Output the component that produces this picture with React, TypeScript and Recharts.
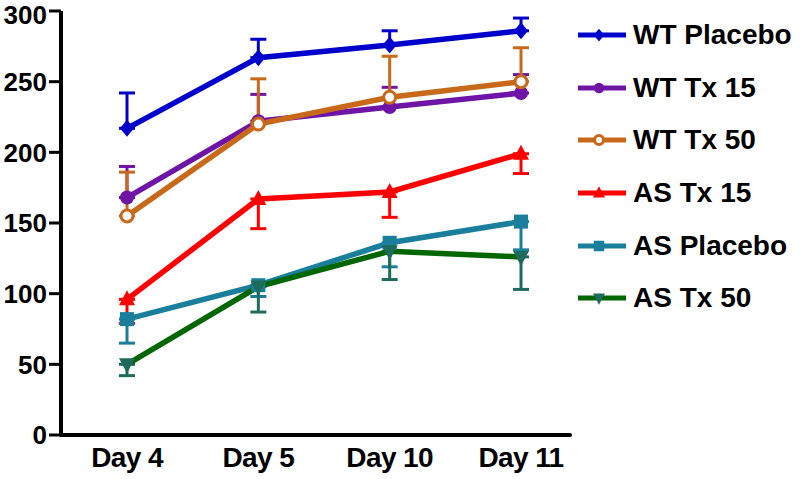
import React from 'react';
import { LineChart, Line, XAxis, YAxis, ErrorBar, Legend } from 'recharts';

const days = ['Day 4', 'Day 5', 'Day 10', 'Day 11'];
const yTicks = [0, 50, 100, 150, 200, 250, 300];

const wtPlacebo = [217, 267, 276, 286];
const wtPlaceboErr = [25, 13, 10, 9];
const wtTx15 = [168, 222, 232, 242];
const wtTx15Err = [22, 19, 14, 13];
const wtTx50 = [155, 220, 239, 250];
const wtTx50Err = [31, 32, 29, 24];
const asTx15 = [96, 167, 172, 199];
const asTx15Err = [17, 21, 18, 14];
const asPlacebo = [82, 106, 136, 151];
const asPlaceboErr = [17, 8, 17, 20];
const asTx50 = [50, 105, 130, 126];
const asTx50Err = [8, 18, 20, 23];

type Shape = 'diamond' | 'circle' | 'ocircle' | 'tri' | 'square' | 'tridown';

const series: {
  key: string; name: string; values: number[]; err: number[]; up: boolean;
  line: string; mark: string; shape: Shape;
}[] = [
  { key: 'wtPlacebo', name: 'WT Placebo', values: wtPlacebo, err: wtPlaceboErr, up: true, line: '#0000CC', mark: '#0000CC', shape: 'diamond' },
  { key: 'wtTx15', name: 'WT Tx 15', values: wtTx15, err: wtTx15Err, up: true, line: '#6E14A6', mark: '#6E14A6', shape: 'circle' },
  { key: 'wtTx50', name: 'WT Tx 50', values: wtTx50, err: wtTx50Err, up: true, line: '#C8691A', mark: '#C8691A', shape: 'ocircle' },
  { key: 'asTx15', name: 'AS Tx 15', values: asTx15, err: asTx15Err, up: false, line: '#FF0000', mark: '#FF0000', shape: 'tri' },
  { key: 'asPlacebo', name: 'AS Placebo', values: asPlacebo, err: asPlaceboErr, up: false, line: '#1A7F9C', mark: '#1A7F9C', shape: 'square' },
  { key: 'asTx50', name: 'AS Tx 50', values: asTx50, err: asTx50Err, up: false, line: '#006600', mark: '#1E6B5C', shape: 'tridown' },
];

const data = days.map((day, i) => {
  const row: Record<string, unknown> = { day };
  series.forEach((s) => {
    row[s.key] = s.values[i];
    row[s.key + 'E'] = s.up ? [0, s.err[i]] : [s.err[i], 0];
  });
  return row;
});

function Marker({ shape, cx, cy, color, k = 1 }: { shape: Shape; cx: number; cy: number; color: string; k?: number }) {
  switch (shape) {
    case 'diamond':
      return <polygon points={`${cx},${cy - 8.5 * k} ${cx + 7 * k},${cy} ${cx},${cy + 8.5 * k} ${cx - 7 * k},${cy}`} fill={color} />;
    case 'circle':
      return <circle cx={cx} cy={cy} r={7 * k} fill={color} />;
    case 'ocircle':
      return <circle cx={cx} cy={cy} r={6 * k} fill="#fff" stroke={color} strokeWidth={3} />;
    case 'tri':
      return <polygon points={`${cx},${cy - 9 * k} ${cx + 8 * k},${cy + 6 * k} ${cx - 8 * k},${cy + 6 * k}`} fill={color} />;
    case 'square':
      return <rect x={cx - 7 * k} y={cy - 7 * k} width={14 * k} height={14 * k} fill={color} />;
    case 'tridown':
      return <polygon points={`${cx - 8 * k},${cy - 6 * k} ${cx + 8 * k},${cy - 6 * k} ${cx},${cy + 9 * k}`} fill={color} />;
  }
  return null;
}

const font = "'Liberation Sans', Arial, sans-serif";

function LegendContent() {
  return (
    <div style={{ display: 'flex', flexDirection: 'column' }}>
      {series.map((s) => (
        <div key={s.key} style={{ height: 52.6, display: 'flex', alignItems: 'center' }}>
          <svg width={50} height={20} style={{ display: 'block' }}>
            <line x1={0} y1={10} x2={48} y2={10} stroke={s.line} strokeWidth={5} />
            <Marker shape={s.shape} cx={21} cy={10} color={s.mark} k={0.75} />
          </svg>
          <span style={{ fontFamily: font, fontWeight: 'bold', fontSize: 28, color: '#000', marginLeft: 5, whiteSpace: 'nowrap' }}>{s.name}</span>
        </div>
      ))}
    </div>
  );
}

export default function App() {
  return (
    <div style={{ position: 'absolute', left: 0, top: 0, width: 800, height: 479, background: '#fff' }}>
      <LineChart width={800} height={479} data={data} margin={{ top: 11, right: 230, bottom: 0, left: 0 }}>
        <XAxis
          dataKey="day"
          padding={{ left: 66, right: 49 }}
          tickLine={false}
          tickSize={0}
          tickMargin={12}
          height={44}
          interval={0}
          axisLine={{ stroke: '#000', strokeWidth: 4, strokeLinecap: 'round' }}
          tick={{ fill: '#000', fontSize: 28, fontWeight: 'bold', fontFamily: font, letterSpacing: -0.6 }}
        />
        <YAxis
          domain={[0, 300]}
          ticks={yTicks}
          width={61}
          tickSize={12}
          tickMargin={2}
          allowDataOverflow
          tickLine={{ stroke: '#000', strokeWidth: 3 }}
          axisLine={{ stroke: '#000', strokeWidth: 4 }}
          tick={{ fill: '#000', fontSize: 26, fontWeight: 'bold', fontFamily: font }}
        />
        <Legend
          layout="vertical"
          align="center"
          verticalAlign="middle"
          wrapperStyle={{ left: 578, top: 9, width: 222 }}
          content={() => <LegendContent />}
        />
        {series.map((s) => (
          <Line
            key={s.key}
            dataKey={s.key}
            name={s.name}
            type="linear"
            stroke={s.line}
            strokeWidth={5.5}
            isAnimationActive={false}
            activeDot={false}
            dot={(p: any) => <Marker key={`${s.key}-${p.index}`} shape={s.shape} cx={p.cx} cy={p.cy} color={s.mark} />}
          >
            <ErrorBar dataKey={s.key + 'E'} direction="y" width={8} strokeWidth={3} stroke={s.mark} />
          </Line>
        ))}
      </LineChart>
    </div>
  );
}
